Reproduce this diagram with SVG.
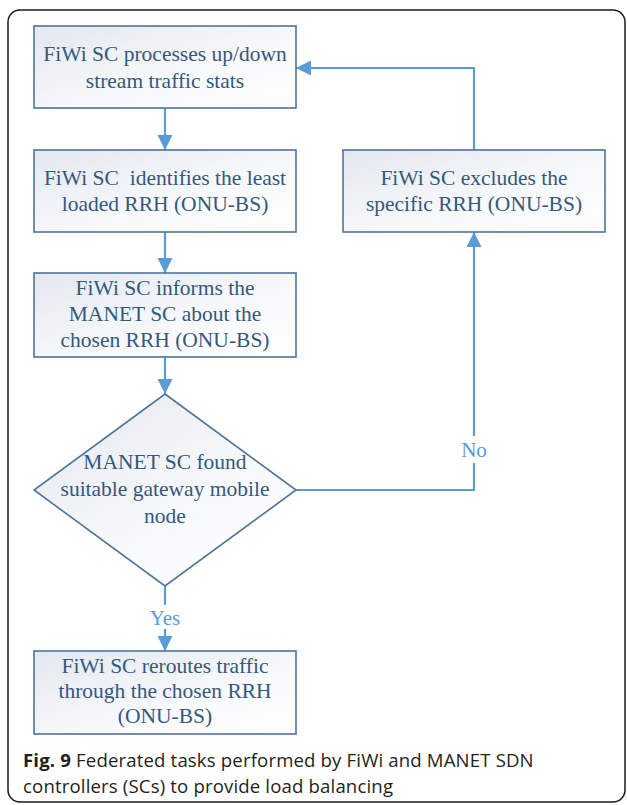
<svg xmlns="http://www.w3.org/2000/svg" width="627" height="805" viewBox="0 0 627 805">
  <defs>
    <linearGradient id="boxFill" x1="0" y1="0" x2="1" y2="1">
      <stop offset="0" stop-color="#e3e8ef"/>
      <stop offset="0.6" stop-color="#f8f9fb"/>
      <stop offset="1" stop-color="#ffffff"/>
    </linearGradient>
    <marker id="arrow" markerUnits="userSpaceOnUse" markerWidth="16" markerHeight="16" viewBox="0 0 16 16" refX="15" refY="8" orient="auto">
      <path d="M0,0.5 L15,8 L0,15.5 Z" fill="#5b9bd5"/>
    </marker>
    <style>
      .node { fill: url(#boxFill); stroke: #4f7399; stroke-width: 1.6; }
      .label { font-family: "Liberation Serif", "Times New Roman", serif; font-size: 21.5px; fill: #35587d; text-anchor: middle; }
      .edge { fill: none; stroke: #5b9bd5; stroke-width: 2.2; }
      .edge-label { font-family: "Liberation Serif", "Times New Roman", serif; font-size: 21px; fill: #5b9bd5; text-anchor: middle; }
      .caption { font-family: "Open Sans", "Noto Sans", sans-serif; font-size: 18.6px; letter-spacing: 0.15px; fill: #231f20; }
    </style>
  </defs>

  <!-- figure frame -->
  <rect x="8" y="10" width="617" height="792" rx="12" ry="12" fill="#ffffff" stroke="#1a1a1a" stroke-width="1.5"/>

  <!-- connectors -->
  <g id="connectors">
    <path class="edge" d="M165,108 L165,150" marker-end="url(#arrow)"/>
    <path class="edge" d="M165,232 L165,273" marker-end="url(#arrow)"/>
    <path class="edge" d="M165,357 L165,394" marker-end="url(#arrow)"/>
    <path class="edge" d="M165,586 L165,605"/>
    <path class="edge" d="M165,629 L165,651" marker-end="url(#arrow)"/>
    <path class="edge" d="M296,490 L474,490 L474,463"/>
    <path class="edge" d="M474,436 L474,232" marker-end="url(#arrow)"/>
    <path class="edge" d="M474,150 L474,68 L296,68" marker-end="url(#arrow)"/>
    <text class="edge-label" x="165" y="625">Yes</text>
    <text class="edge-label" x="474" y="457">No</text>
  </g>

  <g id="process-stats">
    <rect class="node" x="34" y="26" width="262" height="82"/>
    <text class="label" x="165" y="61">FiWi SC processes up/down</text>
    <text class="label" x="165" y="88">stream traffic stats</text>
  </g>

  <g id="identify-least-loaded">
    <rect class="node" x="34" y="150" width="262" height="82"/>
    <text class="label" x="165" y="185" xml:space="preserve">FiWi SC  identifies the least</text>
    <text class="label" x="165" y="211">loaded RRH (ONU-BS)</text>
  </g>

  <g id="inform-manet">
    <rect class="node" x="34" y="273" width="262" height="84"/>
    <text class="label" x="165" y="295">FiWi SC informs the</text>
    <text class="label" x="165" y="321">MANET SC about the</text>
    <text class="label" x="165" y="347">chosen RRH (ONU-BS)</text>
  </g>

  <g id="gateway-found">
    <path class="node" d="M165,394 L296,490 L165,586 L34,490 Z"/>
    <text class="label" x="165" y="469">MANET SC found</text>
    <text class="label" x="165" y="496">suitable gateway mobile</text>
    <text class="label" x="165" y="523">node</text>
  </g>

  <g id="exclude-rrh">
    <rect class="node" x="343" y="150" width="262" height="82"/>
    <text class="label" x="474" y="185">FiWi SC excludes the</text>
    <text class="label" x="474" y="211">specific RRH (ONU-BS)</text>
  </g>

  <g id="reroute-traffic">
    <rect class="node" x="34" y="651" width="262" height="83"/>
    <text class="label" x="165" y="673">FiWi SC reroutes traffic</text>
    <text class="label" x="165" y="698">through the chosen RRH</text>
    <text class="label" x="165" y="723">(ONU-BS)</text>
  </g>

  <!-- caption -->
  <text class="caption" x="23" y="767"><tspan font-weight="bold">Fig. 9</tspan> Federated tasks performed by FiWi and MANET SDN</text>
  <text class="caption" x="23" y="793">controllers (SCs) to provide load balancing</text>
</svg>
